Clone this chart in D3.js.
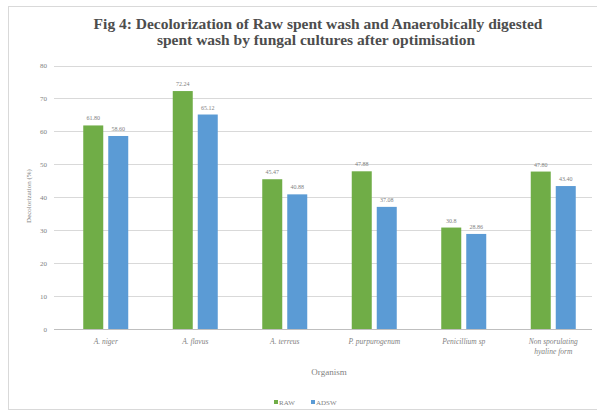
<!DOCTYPE html>
<html><head><meta charset="utf-8">
<script src="https://cdn.jsdelivr.net/npm/d3@7"></script>
<style>body{margin:0;background:#fff}svg{display:block}</style>
</head><body>
<script>
const categories = ["A. niger","A. flavus","A. terreus","P. purpurogenum","Penicillium sp","Non sporulating hyaline form"];
const rawValues = [61.80, 72.24, 45.47, 47.88, 30.8, 47.80];
const adswValues = [58.60, 65.12, 40.88, 37.08, 28.86, 43.40];
const rawLabels = ["61.80","72.24","45.47","47.88","30.8","47.80"];
const adswLabels = ["58.60","65.12","40.88","37.08","28.86","43.40"];
const seriesNames = ["RAW","ADSW"];
const yTicks = [0,10,20,30,40,50,60,70,80];

const W=597,H=414;
const svg=d3.select("body").append("svg").attr("width",W).attr("height",H);
svg.append("rect").attr("x",8.5).attr("y",6.5).attr("width",600).attr("height",403)
  .attr("fill","#fff").attr("stroke","#d9d9d9");

const x=d3.scaleBand().domain(categories).range([61,598]);
const y=d3.scaleLinear().domain([0,80]).range([329,65.5]);
const colors=["#70AD47","#5B9BD5"];
const serif="Liberation Serif";

// title
const t=svg.append("text").attr("text-anchor","middle").attr("font-family",serif)
  .attr("font-weight","bold").attr("font-size",15.5).attr("fill","#4d4d4d");
t.append("tspan").attr("x",318).attr("y",29).text("Fig 4: Decolorization of Raw spent wash and Anaerobically digested");
t.append("tspan").attr("x",316).attr("y",45).text("spent wash by fungal cultures after optimisation");

// gridlines
svg.append("g").selectAll("line").data(yTicks).join("line")
  .attr("x1",54).attr("x2",592).attr("y1",d=>Math.round(y(d))+0.5).attr("y2",d=>Math.round(y(d))+0.5)
  .attr("stroke",d=>d===0?"#bfbfbf":"#d9d9d9");
svg.append("g").selectAll("text").data(yTicks).join("text")
  .attr("x",47).attr("y",d=>y(d)+2.5).attr("text-anchor","end")
  .attr("font-family",serif).attr("font-size",7).attr("fill","#7f7f7f").text(d=>d);

svg.append("text").attr("transform","translate(31,196) rotate(-90)").attr("text-anchor","middle")
  .attr("font-family",serif).attr("font-size",7).attr("fill","#7f7f7f").text("Decolorization (%)");

const bw=20, gap=5;
const series=[rawValues,adswValues], labels=[rawLabels,adswLabels];
series.forEach((vals,si)=>{
  const g=svg.append("g");
  const bx=(c)=>x(c)+x.bandwidth()/2-(bw+gap/2)+si*(bw+gap);
  g.selectAll("rect").data(categories).join("rect")
    .attr("x",(c)=>bx(c)).attr("width",bw)
    .attr("y",(c,i)=>y(vals[i])).attr("height",(c,i)=>y(0)-y(vals[i]))
    .attr("fill",colors[si]);
  g.selectAll("text").data(categories).join("text")
    .attr("x",c=>bx(c)+bw/2).attr("y",(c,i)=>y(vals[i])-5)
    .attr("text-anchor","middle").attr("font-family",serif).attr("font-size",6)
    .attr("fill","#7f7f7f").text((c,i)=>labels[si][i]);
});

// category labels
const catLines={"Non sporulating hyaline form":["Non sporulating","hyaline form"]};
categories.forEach(c=>{
  const lines=catLines[c]||[c];
  const tx=svg.append("text").attr("text-anchor","middle").attr("font-family",serif)
    .attr("font-style","italic").attr("font-size",7.5).attr("fill","#7f7f7f");
  lines.forEach((l,i)=>tx.append("tspan").attr("x",x(c)+x.bandwidth()/2).attr("y",344+i*10).text(l));
});

svg.append("text").attr("x",329).attr("y",375).attr("text-anchor","middle")
  .attr("font-family",serif).attr("font-size",9).attr("fill","#7f7f7f").text("Organism");

// legend
const leg=svg.append("g");
const lx=[274,311];
seriesNames.forEach((n,i)=>{
  leg.append("rect").attr("x",lx[i]).attr("y",400).attr("width",4).attr("height",4).attr("fill",colors[i]);
  leg.append("text").attr("x",lx[i]+5).attr("y",405).attr("font-family",serif).attr("font-size",7)
    .attr("fill","#7f7f7f").text(n);
});
</script>
</body></html>
